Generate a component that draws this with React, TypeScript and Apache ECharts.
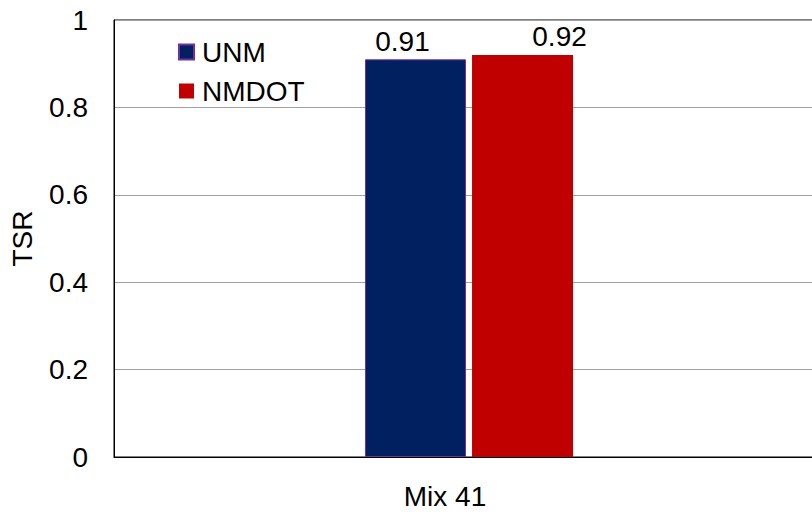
import React, { useEffect, useRef } from "react";
import * as echarts from "echarts";

const categories = ["Mix 41"];
const unmValues = [0.91];
const nmdotValues = [0.92];
const seriesNames = ["UNM", "NMDOT"];
const yTicks = [0, 0.2, 0.4, 0.6, 0.8, 1];

const FONT = "'Liberation Sans', Arial, sans-serif";
const FS = 28;

export default function App() {
  const ref = useRef<HTMLDivElement>(null);
  useEffect(() => {
    if (!ref.current) return;
    const chart = echarts.init(ref.current, null, { renderer: "svg" });
    chart.setOption({
      animation: false,
      backgroundColor: "#fff",
      textStyle: { fontFamily: FONT },
      grid: { left: 114, top: 20, bottom: 55, right: 0, show: true, borderColor: "#000", borderWidth: 1 },
      legend: {
        data: seriesNames,
        orient: "vertical",
        left: 178,
        top: 38,
        padding: 0,
        itemWidth: 15,
        itemHeight: 15,
        itemGap: 11,
        icon: "rect",
        textStyle: { fontFamily: FONT, fontSize: FS, color: "#000", padding: [0, 0, 0, 3] },
      },
      xAxis: {
        type: "category",
        data: categories,
        axisLine: { lineStyle: { color: "#000", width: 1 } },
        axisTick: { show: false },
        axisLabel: { fontFamily: FONT, fontSize: FS, color: "#000", margin: 25, padding: [0, 48, 0, 0] },
      },
      yAxis: {
        type: "value",
        min: yTicks[0],
        max: yTicks[yTicks.length - 1],
        interval: 0.2,
        name: "TSR",
        nameLocation: "middle",
        nameGap: 78,
        nameTextStyle: { fontFamily: FONT, fontSize: FS, color: "#000" },
        axisLine: { show: true, lineStyle: { color: "#000" } },
        axisTick: { show: false },
        splitLine: { lineStyle: { color: "#a0a0a0", width: 1 } },
        axisLabel: {
          fontFamily: FONT,
          fontSize: FS,
          color: "#000",
          margin: 26,
          formatter: (v: number) => String(Math.round(v * 10) / 10),
        },
      },
      series: [
        {
          name: seriesNames[0],
          type: "bar",
          data: unmValues,
          barWidth: 101,
          barGap: "6%",
          itemStyle: { color: "#002060", borderColor: "#7030a0", borderWidth: 1 },
          label: { show: true, position: "top", distance: 4, offset: [-13, 0], fontFamily: FONT, fontSize: FS, color: "#000" },
        },
        {
          name: seriesNames[1],
          type: "bar",
          data: nmdotValues,
          barWidth: 101,
          barGap: "6%",
          itemStyle: { color: "#c00000" },
          label: { show: true, position: "top", distance: 4, offset: [37, 0], fontFamily: FONT, fontSize: FS, color: "#000" },
        },
      ],
    });
    return () => chart.dispose();
  }, []);
  return (
    <div style={{ position: "absolute", left: 0, top: 0, width: 812, height: 512, overflow: "hidden" }}>
      <div ref={ref} style={{ width: 824, height: 512 }} />
    </div>
  );
}
